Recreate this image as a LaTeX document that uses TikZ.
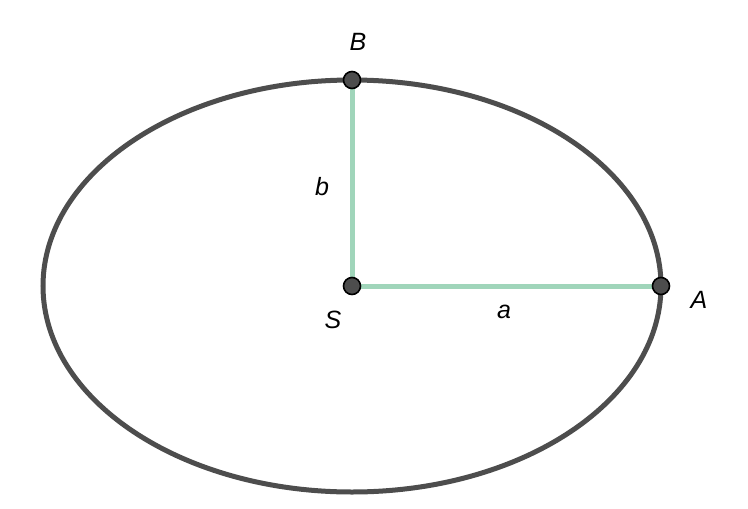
\documentclass[tikz,border=0pt]{standalone}
\usepackage{fontspec}
\setmainfont{Liberation Sans}
\definecolor{curvegray}{HTML}{4D4D4D}
\definecolor{axisgreen}{HTML}{A0D5BA}
\tikzset{
  pt/.style={circle,draw=black,fill=curvegray,line width=1.6pt,inner sep=0pt,minimum size=17pt},
  lbl/.style={font=\fontsize{25}{30}\selectfont\itshape,inner sep=0pt}
}
\begin{document}
\begin{tikzpicture}[x=1pt,y=-1pt]
      \useasboundingbox (0,0) rectangle (748,509);
      \draw[curvegray,line width=5pt] (352,286) ellipse [x radius=309,y radius=206];
      \path
        (352,80) coordinate (B)
        (352,286) coordinate (S)
        (661,286) coordinate (A);
      \begin{scope}[axisgreen,line width=5pt]
        \draw (S) to (B);
        \draw (S) to (A);
      \end{scope}
      \node[pt] (Bpt) at (B) {};
      \node[pt] (Spt) at (S) {};
      \node[pt] (Apt) at (A) {};
      \draw
        (358,42) node[lbl] (Blbl){B}
        (322,187) node[lbl] (blbl){b}
        (333,320) node[lbl] (Slbl){S}
        (504,312) node[lbl] (albl){a}
        (699,300) node[lbl] (Albl){A};
    \end{tikzpicture}
\end{document}
